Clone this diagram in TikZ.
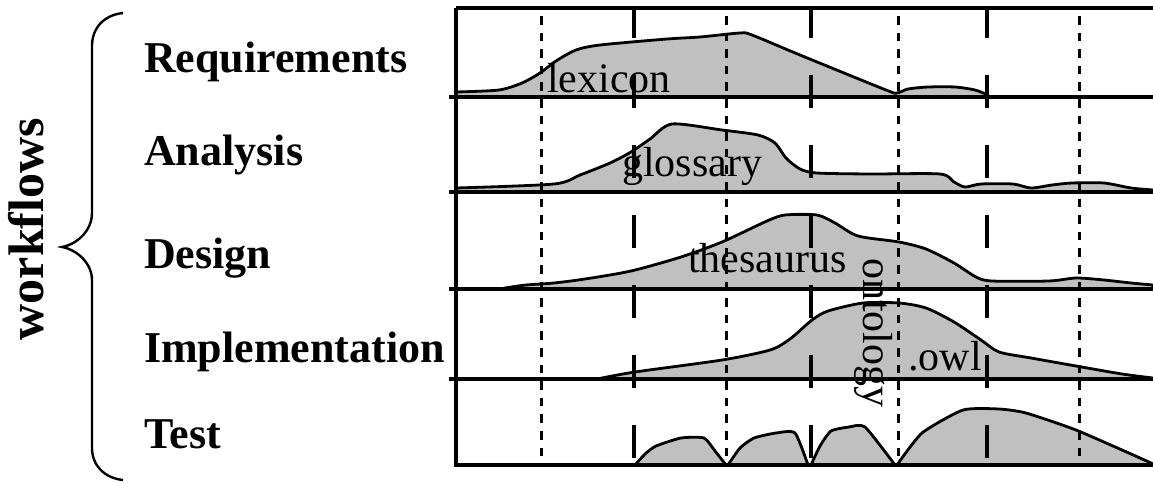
\documentclass[tikz,border=0pt]{standalone}
\usepackage{fontspec}
\setmainfont{Liberation Serif}
\usetikzlibrary{%
	calc,%
	positioning,%
}
\definecolor{cwave}{RGB}{192, 192, 192}
\tikzset{
	rowlabel/.style={%
			font={\fontsize{44}{44}\selectfont\bfseries},%
			inner sep=0,%
			anchor=base west},%
	phaselabel/.style={%
			font={\fontsize{42}{42}\selectfont},%
			inner sep=0,%
			anchor=base west},%
	wave/.style={%
			fill=cwave,%
			draw=black,%
			line width=2.8pt,%
			line join=round},%
	frameline/.style={%
			line width=3.2pt},%
	rowline/.style={%
			line width=4pt},%
	thinmark/.style={%
			line width=3pt,%
			dash pattern=on 8.5pt off 8.1pt},%
	thickmark/.style={%
			line width=4.5pt,%
			dash pattern=on 33pt off 37pt,%
			dash phase=3pt},%
}

\begin{document}
\begin{tikzpicture}[x=1pt, y=-1pt]%
	\useasboundingbox (0,0) rectangle (1153,482);

	\node[rowlabel] (req) at (144,72) {Requirements};
	\node[rowlabel] (ana) at (144,165) {Analysis};
	\node[rowlabel] (des) at (144,268) {Design};
	\node[rowlabel] (impl) at (144,362) {Implementation};
	\node[rowlabel] (test) at (144,448) {Test};

	\node[font={\fontsize{50}{50}\selectfont\bfseries}, inner sep=0, anchor=base, rotate=90] (wf) at (43,229) {workflows};

	\draw[line width=2.4pt] (123,13) .. controls (104,15) and (92,28) .. (92,46) -- (92,213)
		.. controls (92,230) and (78,244) .. (62,247) .. controls (78,250) and (92,264) .. (92,280)
		-- (92,448) .. controls (92,465) and (104,478) .. (123,480);

	% phase curves
	\filldraw[wave] (456,97) -- plot[smooth, tension=0.45] coordinates {(456,92) (499,90) (522,83) (540,73) (556,61) (576,50) (600,45) (667,39) (700,37) (740,33) (752,35) (800,55) (886,90) (897,93) (908,89) (928,87) (955,87) (975,90) (988,95)} -- (988,97) -- cycle;
	\filldraw[wave] (456,192) -- plot[smooth, tension=0.45] coordinates {(456,188) (554,184) (580,175) (610,163) (631,152) (650,139) (672,124) (722,130) (758,135) (775,143) (786,158) (800,169) (817,173) (870,174) (940,174) (954,182) (965,187) (981,184) (1013,184) (1031,188) (1052,185) (1072,183) (1104,183) (1131,188) (1153,190)} -- (1153,192) -- cycle;
	\filldraw[wave] (500,289) -- plot[smooth, tension=0.45] coordinates {(505,288) (526,285) (554,283) (585,279) (631,271) (681,257) (722,242) (767,221) (785,215) (817,215) (835,223) (858,236) (899,242) (926,249) (954,263) (976,277) (992,281) (1049,281) (1076,278) (1104,280) (1131,283) (1153,285)} -- (1153,289) -- cycle;
	\filldraw[wave] (597,379) -- plot[smooth, tension=0.45] coordinates {(597,379) (635,372) (722,360) (770,350) (790,339) (812,320) (828,311) (863,303) (899,303) (926,308) (954,322) (981,340) (999,352) (1031,358) (1076,366) (1122,374) (1153,378)} -- (1153,379) -- cycle;
	\filldraw[wave] plot[smooth, tension=0.35] coordinates {(635,465) (645,454) (656,446) (681,438) (704,438) (715,451) (726,465)} -- cycle;
	\filldraw[wave] plot[smooth, tension=0.35] coordinates {(728,465) (740,448) (754,438) (776,433) (795,433) (808,465)} -- cycle;
	\filldraw[wave] plot[smooth, tension=0.35] coordinates {(811,465) (820,446) (831,431) (849,427) (865,427) (895,465)} -- cycle;
	\filldraw[wave] plot[smooth, tension=0.35] coordinates {(897,465) (922,433) (963,410) (999,409) (1026,413) (1076,430) (1140,458) (1153,464)} -- (1153,465) -- cycle;

	% frame and rows
	\draw[frameline] (456,8) -- (1153,8);
	\draw[frameline] (456,8) -- (456,465) -- (1153,465);
	\draw[rowline] (449,97) -- (1153,97);
	\draw[rowline] (449,192) -- (1153,192);
	\draw[rowline] (449,289) -- (1153,289);
	\draw[rowline] (449,379) -- (1153,379);

	\draw[thinmark] (541,16) -- (541,463);
	\draw[thinmark] (726,16) -- (726,463);
	\draw[thinmark] (898,16) -- (898,463);
	\draw[thinmark] (1079,16) -- (1079,463);
	\draw[thickmark] (634,8) -- (634,463);
	\draw[thickmark] (811,8) -- (811,463);
	\draw[thickmark] (987,8) -- (987,463);

	\node[phaselabel] (lexicon) at (547,92) {lexicon};
	\node[phaselabel] (glossary) at (622,176) {glossary};
	\node[phaselabel] (thesaurus) at (688,272) {thesaurus};
	\node[phaselabel] (owl) at (908,370) {.owl};
	\node[phaselabel, rotate=-90] (ontology) at (863,258) {ontology};
\end{tikzpicture}
\end{document}
